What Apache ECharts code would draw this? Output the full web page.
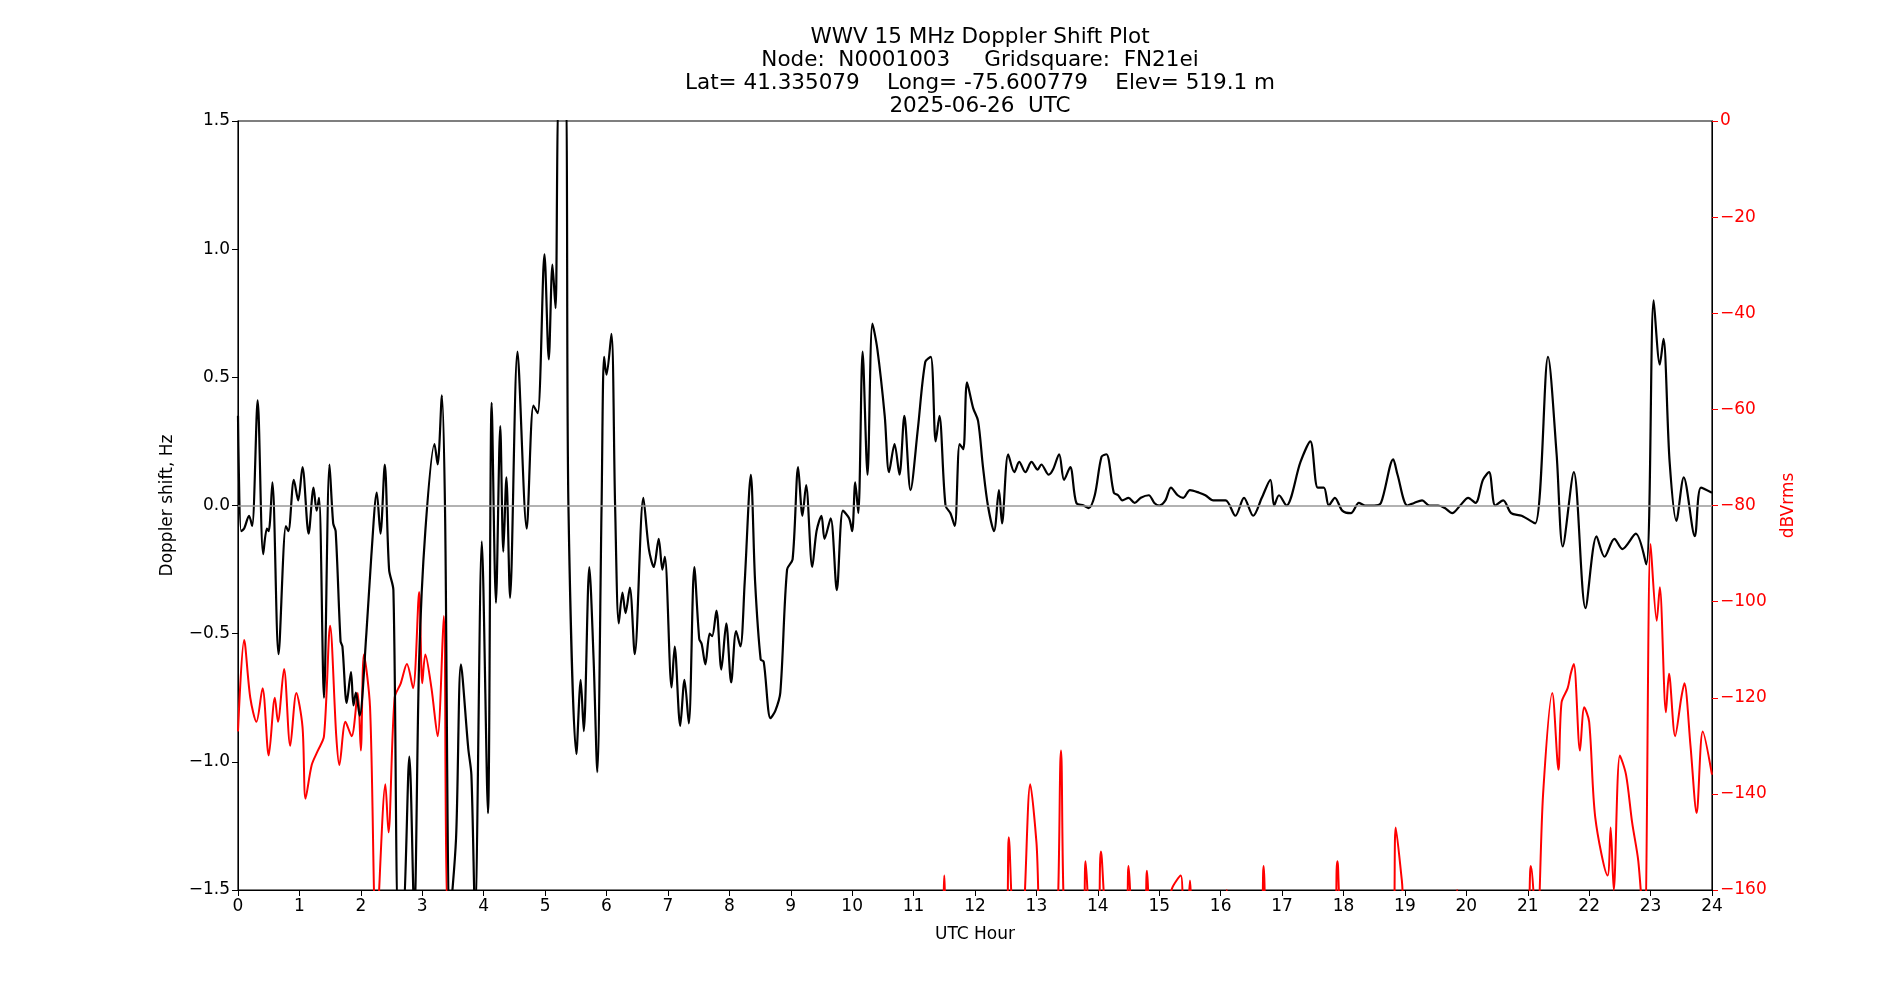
<!DOCTYPE html>
<html><head><meta charset="utf-8">
<script src="https://cdn.jsdelivr.net/npm/echarts@6/dist/echarts.min.js"></script>
<style>html,body{margin:0;padding:0;background:#fff}#c{width:1900px;height:1000px}</style>
</head><body><div id="c"></div>
<script>
const titleLines = ["WWV 15 MHz Doppler Shift Plot","Node:  N0001003     Gridsquare:  FN21ei","Lat= 41.335079    Long= -75.600779    Elev= 519.1 m","2025-06-26  UTC"];
const dopplerHours = [0,0.05,0.1,0.18,0.23,0.32,0.41,0.47,0.5,0.56,0.66,0.78,0.82,0.91,0.98,1.05,1.15,1.23,1.28,1.32,1.4,1.49,1.55,1.59,1.67,1.7,1.77,1.84,1.88,1.92,1.98,2.09,2.17,2.26,2.32,2.39,2.46,2.53,2.61,2.68,2.79,2.87,2.95,3.05,3.2,3.25,3.32,3.37,3.45,3.55,3.63,3.75,3.8,3.86,3.97,4.07,4.13,4.2,4.27,4.32,4.37,4.43,4.55,4.7,4.81,4.88,4.99,5.06,5.12,5.17,5.23,5.33,5.38,5.51,5.58,5.63,5.72,5.79,5.85,5.92,5.96,6.0,6.08,6.14,6.2,6.26,6.31,6.38,6.46,6.6,6.69,6.77,6.85,6.91,6.95,7.06,7.11,7.2,7.27,7.34,7.43,7.51,7.55,7.61,7.68,7.72,7.79,7.87,7.95,8.03,8.11,8.18,8.25,8.35,8.42,8.51,8.56,8.67,8.75,8.83,8.94,9.03,9.12,9.19,9.25,9.35,9.42,9.5,9.55,9.65,9.75,9.85,9.95,10.0,10.05,10.1,10.17,10.25,10.33,10.41,10.53,10.6,10.69,10.77,10.85,10.95,11.07,11.19,11.28,11.36,11.42,11.52,11.6,11.67,11.75,11.81,11.87,11.97,12.05,12.13,12.21,12.31,12.39,12.44,12.54,12.64,12.72,12.82,12.92,13.02,13.08,13.2,13.27,13.37,13.45,13.55,13.65,13.77,13.85,13.95,14.06,14.14,14.26,14.33,14.4,14.5,14.6,14.7,14.83,14.92,15.0,15.1,15.19,15.3,15.39,15.5,15.65,15.75,15.88,16.08,16.24,16.38,16.53,16.67,16.81,16.87,16.95,17.07,17.3,17.46,17.58,17.68,17.76,17.86,17.98,18.12,18.25,18.35,18.5,18.61,18.81,18.88,19.04,19.15,19.28,19.4,19.54,19.65,19.77,19.9,20.03,20.15,20.27,20.37,20.47,20.6,20.73,20.9,21.12,21.33,21.47,21.57,21.75,21.94,22.12,22.25,22.41,22.54,22.76,22.93,23.05,23.15,23.21,23.31,23.42,23.54,23.72,23.82,24];
const dopplerHz = [0.35,-0.1,-0.09,-0.04,-0.08,0.41,-0.19,-0.09,-0.1,0.09,-0.58,-0.08,-0.1,0.1,0.02,0.15,-0.11,0.07,-0.02,0.03,-0.75,0.16,-0.07,-0.1,-0.53,-0.55,-0.77,-0.65,-0.78,-0.73,-0.82,-0.5,-0.2,0.05,-0.11,0.16,-0.25,-0.33,-1.6,-1.6,-0.98,-1.6,-0.6,-0.1,0.24,0.16,0.43,0,-1.6,-1.3,-0.62,-0.95,-1.05,-1.6,-0.14,-1.2,0.4,-0.38,0.31,-0.18,0.11,-0.36,0.6,-0.09,0.39,0.36,0.98,0.57,0.94,0.77,1.6,1.6,0,-0.97,-0.68,-0.88,-0.24,-0.6,-1.04,0,0.58,0.51,0.67,0,-0.46,-0.34,-0.42,-0.32,-0.58,0.03,-0.17,-0.24,-0.13,-0.25,-0.2,-0.71,-0.55,-0.86,-0.68,-0.85,-0.24,-0.52,-0.54,-0.62,-0.5,-0.51,-0.41,-0.64,-0.46,-0.69,-0.49,-0.55,-0.3,0.12,-0.3,-0.6,-0.61,-0.83,-0.8,-0.73,-0.25,-0.21,0.15,-0.04,0.08,-0.24,-0.1,-0.04,-0.13,-0.05,-0.33,-0.02,-0.05,-0.1,0.09,-0.03,0.6,0.12,0.71,0.61,0.35,0.13,0.24,0.12,0.35,0.06,0.3,0.56,0.58,0.25,0.35,0.0,-0.03,-0.08,0.24,0.22,0.48,0.38,0.33,0.15,0.0,-0.1,0.06,-0.07,0.2,0.13,0.17,0.13,0.17,0.14,0.16,0.12,0.14,0.2,0.1,0.15,0.01,0.0,-0.01,0.04,0.19,0.2,0.05,0.04,0.02,0.03,0.01,0.03,0.04,0.01,0.0,0.02,0.07,0.04,0.03,0.06,0.05,0.04,0.02,0.02,-0.04,0.03,-0.04,0.03,0.1,0.0,0.04,0.0,0.17,0.25,0.07,0.07,0.0,0.03,-0.02,-0.03,0.01,0.0,0.0,0.01,0.18,0.12,0.0,0.01,0.02,0.0,0.0,-0.01,-0.03,0.0,0.03,0.01,0.1,0.13,0.0,0.02,-0.03,-0.04,-0.07,0.58,0.2,-0.16,0.13,-0.4,-0.12,-0.2,-0.13,-0.17,-0.11,-0.23,0.8,0.55,0.65,0.17,-0.06,0.11,-0.12,0.07,0.05];
const powerHours = [0,0.1,0.2,0.3,0.4,0.5,0.6,0.65,0.75,0.85,0.95,1.05,1.1,1.2,1.3,1.4,1.5,1.6,1.65,1.75,1.85,1.95,2.0,2.05,2.15,2.25,2.4,2.45,2.55,2.65,2.75,2.85,2.95,3.0,3.05,3.15,3.25,3.35,3.45,11.45,11.5,11.55,12.5,12.55,12.65,12.75,12.9,13.0,13.1,13.3,13.4,13.5,13.75,13.8,13.9,14.0,14.05,14.2,14.45,14.5,14.6,14.75,14.8,14.9,15.15,15.2,15.35,15.4,15.45,15.5,15.6,16.05,16.1,16.15,16.65,16.7,16.8,17.85,17.9,18.05,18.8,18.85,18.95,19.05,19.8,19.85,19.9,20.95,21.05,21.15,21.25,21.4,21.5,21.55,21.65,21.7,21.75,21.85,21.92,22.0,22.1,22.3,22.35,22.4,22.5,22.6,22.7,22.8,22.9,23.0,23.1,23.15,23.25,23.3,23.4,23.5,23.55,23.65,23.75,23.85,24];
const powerDb = [-127,-108,-120,-125,-118,-132,-120,-125,-114,-130,-119,-126,-141,-134,-131,-128,-105,-128,-134,-125,-128,-119,-131,-111,-122,-170,-138,-148,-120,-117,-113,-118,-98,-117,-111,-118,-128,-103,-170,-170,-157,-170,-170,-149,-170,-170,-138,-150,-170,-170,-131,-170,-170,-154,-170,-170,-152,-170,-170,-155,-170,-170,-156,-170,-170,-160,-157,-170,-170,-158,-170,-170,-160,-170,-170,-155,-170,-170,-154,-170,-170,-147,-158,-170,-170,-160,-170,-170,-155,-170,-140,-119,-135,-121,-118,-115,-113,-131,-122,-125,-145,-157,-147,-160,-132,-136,-146,-154,-170,-88,-104,-97,-123,-115,-128,-120,-117,-130,-144,-127,-136];

const zip = (a,b)=>a.map((x,i)=>[x,b[i]]);
const minus = v => String(v).replace('-', '\u2212');
const font = 'DejaVu Sans';
const chart = echarts.init(document.getElementById('c'));
chart.setOption({
  animation:false,
  textStyle:{fontFamily:font},
  title:{text:titleLines.join('\n'),left:975,textAlign:'center',top:21,
    textStyle:{fontFamily:font,fontSize:21.5,fontWeight:'normal',color:'#000',lineHeight:23}},
  grid:{left:238,right:188,top:121,bottom:110,show:true,borderColor:'#000',borderWidth:1.2},
  xAxis:{type:'value',min:0,max:24,interval:1,name:'UTC Hour',nameLocation:'middle',nameGap:36,
    nameTextStyle:{fontSize:17,color:'#000'},
    axisLine:{onZero:false,lineStyle:{color:'#000'}},axisTick:{length:6,lineStyle:{color:'#000'}},
    axisLabel:{fontSize:17,color:'#000',margin:8},splitLine:{show:false}},
  yAxis:[{type:'value',min:-1.5,max:1.5,interval:0.5,name:'Doppler shift, Hz',nameLocation:'middle',nameGap:62,
    nameTextStyle:{fontSize:17,color:'#000'},
    axisLine:{show:true,onZero:false,lineStyle:{color:'#000'}},axisTick:{show:true,length:6,lineStyle:{color:'#000'}},
    axisLabel:{fontSize:17,color:'#000',formatter:v=>minus(v.toFixed(1))},splitLine:{show:false}},
   {type:'value',min:-160,max:0,interval:20,position:'right',name:'dBVrms',nameLocation:'middle',nameGap:68,nameRotate:90,
    nameTextStyle:{fontSize:17,color:'#ff0000'},
    axisLine:{show:true,onZero:false,lineStyle:{color:'#000'}},axisTick:{show:true,length:6,lineStyle:{color:'#ff0000'}},
    axisLabel:{fontSize:17,color:'#ff0000',formatter:v=>minus(v)},splitLine:{show:false}}],
  series:[
    {type:'line',yAxisIndex:1,data:zip(powerHours,powerDb),showSymbol:false,smooth:0.3,clip:true,
     lineStyle:{color:'#ff0000',width:2}},
    {type:'line',yAxisIndex:0,data:zip(dopplerHours,dopplerHz),showSymbol:false,smooth:0.3,clip:true,
     lineStyle:{color:'#000',width:2.2},
     markLine:{silent:true,symbol:'none',label:{show:false},lineStyle:{color:'#999',type:'solid',width:1.5},data:[{yAxis:0}]}}
  ]
});
</script></body></html>
